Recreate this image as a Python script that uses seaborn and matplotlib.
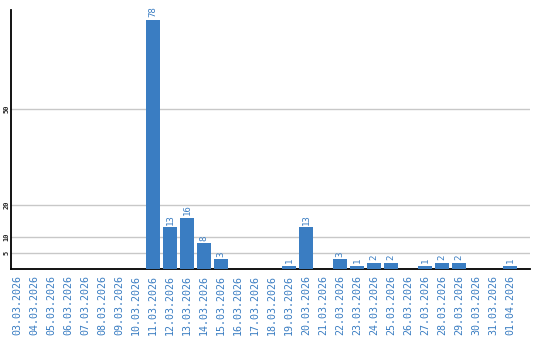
import matplotlib
matplotlib.use("Agg")
import matplotlib.pyplot as plt
import seaborn as sns
import pandas as pd

dates = ["03.03.2026", "04.03.2026", "05.03.2026", "06.03.2026", "07.03.2026",
         "08.03.2026", "09.03.2026", "10.03.2026", "11.03.2026", "12.03.2026",
         "13.03.2026", "14.03.2026", "15.03.2026", "16.03.2026", "17.03.2026",
         "18.03.2026", "19.03.2026", "20.03.2026", "21.03.2026", "22.03.2026",
         "23.03.2026", "24.03.2026", "25.03.2026", "26.03.2026", "27.03.2026",
         "28.03.2026", "29.03.2026", "30.03.2026", "31.03.2026", "01.04.2026"]
values = [0, 0, 0, 0, 0, 0, 0, 0, 78, 13, 16, 8, 3, 0, 0, 0, 1, 13, 0, 3,
          1, 2, 2, 0, 1, 2, 2, 0, 0, 1]
yticks = [5, 10, 20, 50]

BLUE = "#3a7dc2"
df = pd.DataFrame({"date": dates, "value": values})

sns.set_style("white")
plt.rcParams["font.family"] = ["DejaVu Sans Mono", "DejaVu Sans"]

fig = plt.figure(figsize=(5.4, 3.4), dpi=100)
ax = fig.add_axes([11 / 540, 71 / 340, 519 / 540, 259 / 340])

sns.barplot(data=df, x="date", y="value", color=BLUE, saturation=1,
            width=0.82, linewidth=0, edgecolor="none", ax=ax, zorder=3)

ax.set_ylim(0, 81)
ax.set_xlim(-0.35, 30.18)
ax.set_yticks(yticks)
ax.set_yticklabels([str(t) for t in yticks], rotation=90, fontsize=5,
                   fontweight="bold", va="center")
ax.yaxis.grid(True, color="#c8c8c8", linewidth=1, zorder=0)
ax.xaxis.grid(False)
ax.tick_params(axis="both", length=0)
ax.tick_params(axis="y", pad=1)
ax.tick_params(axis="x", pad=4)
ax.set_xticks(range(len(dates)))
ax.set_xticklabels(dates, rotation=90, fontsize=7.2, color=BLUE, va="top")
ax.set_xlabel("")
ax.set_ylabel("")

for s in ["top", "right"]:
    ax.spines[s].set_visible(False)
for s in ["left", "bottom"]:
    ax.spines[s].set_color("black")
    ax.spines[s].set_linewidth(1.3)

for i, v in enumerate(values):
    if v > 0:
        ax.annotate(str(v), (i, v), xytext=(0, 2), textcoords="offset points",
                    rotation=90, ha="center", va="bottom", fontsize=6.5,
                    color=BLUE)

fig.savefig("out.png", dpi=100)
